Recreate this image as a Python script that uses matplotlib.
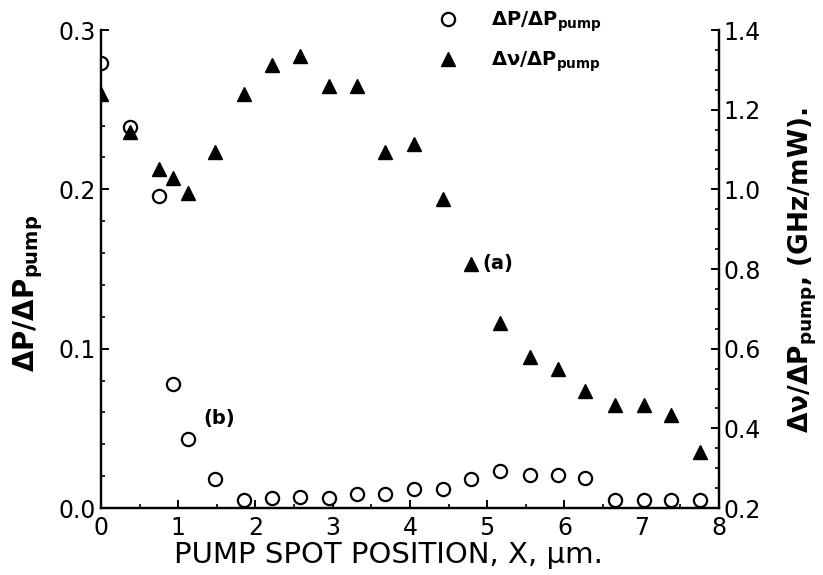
import matplotlib
matplotlib.use('Agg')
import matplotlib.pyplot as plt
from matplotlib.lines import Line2D
from matplotlib.ticker import MultipleLocator

# pump spot position, um
x_pos = [0.0, 0.38, 0.75, 0.93, 1.12, 1.48, 1.85, 2.22, 2.58, 2.95, 3.32, 3.68,
         4.05, 4.43, 4.79, 5.17, 5.55, 5.91, 6.27, 6.65, 7.03, 7.38, 7.75]

# (b) dP/dPpump, left axis
dp_ratio = [0.279, 0.239, 0.196, 0.078, 0.043, 0.018, 0.005, 0.006, 0.007, 0.006,
            0.009, 0.009, 0.012, 0.012, 0.018, 0.023, 0.021, 0.021, 0.019,
            0.005, 0.005, 0.005, 0.005]

# (a) dnu/dPpump, GHz/mW, right axis
dnu_ratio = [1.24, 1.145, 1.05, 1.028, 0.99, 1.095, 1.24, 1.311, 1.336, 1.259,
             1.259, 1.095, 1.115, 0.975, 0.812, 0.664, 0.58, 0.549, 0.495,
             0.459, 0.459, 0.433, 0.341]

x_ticks = [0, 1, 2, 3, 4, 5, 6, 7, 8]
left_ticks = [0.0, 0.1, 0.2, 0.3]
right_ticks = [0.2, 0.4, 0.6, 0.8, 1.0, 1.2, 1.4]

plt.rcParams['font.family'] = 'DejaVu Sans'

fig = plt.figure(figsize=(8.23, 5.75), dpi=100)
ax = fig.add_axes([0.1227, 0.1165, 0.7509, 0.8313])
ax2 = ax.twinx()

ax.plot(x_pos, dp_ratio, 'o', mfc='white', mec='black', mew=1.6, ms=9.5, zorder=3)
ax2.plot(x_pos, dnu_ratio, '^', color='black', ms=10.5, zorder=3)

ax.set_xlim(0, 8)
ax.set_ylim(0, 0.3)
ax2.set_ylim(0.2, 1.4)

ax.set_xticks(x_ticks)
ax.set_xticklabels([str(t) for t in x_ticks])
ax.set_yticks(left_ticks)
ax.set_yticklabels(['%.1f' % t for t in left_ticks])
ax2.set_yticks(right_ticks)
ax2.set_yticklabels(['%.1f' % t for t in right_ticks])
ax.yaxis.set_minor_locator(MultipleLocator(0.02))
ax2.yaxis.set_minor_locator(MultipleLocator(0.05))
ax.xaxis.set_minor_locator(MultipleLocator(0.5))

for a in (ax, ax2):
    a.spines['top'].set_visible(False)
    for s in ('left', 'right', 'bottom'):
        a.spines[s].set_linewidth(1.6)
    a.tick_params(which='major', direction='in', length=6, width=1.4, labelsize=17)
    a.tick_params(which='minor', direction='in', length=3, width=1.2)
ax.tick_params(axis='x', pad=6)

fig.text(0.472, 0.035, 'PUMP SPOT POSITION, X, \u00b5m.', fontsize=21,
         ha='center', va='center')
fig.text(0.034, 0.49, 'ΔP/ΔP$_{\\mathbf{pump}}$', fontsize=20, fontweight='bold',
         rotation=90, ha='center', va='center')
fig.text(0.975, 0.53, 'Δν/ΔP$_{\\mathbf{pump}}$, (GHz/mW).', fontsize=19,
         fontweight='bold', rotation=90, ha='center', va='center')

ax2.text(4.94, 0.815, '(a)', fontsize=14, fontweight='bold', va='center')
ax.text(1.32, 0.056, '(b)', fontsize=14, fontweight='bold', va='center')

handles = [Line2D([], [], ls='none', marker='o', mfc='white', mec='black', mew=1.6, ms=9.5),
           Line2D([], [], ls='none', marker='^', color='black', ms=10.5)]
labels = ['ΔP/ΔP$_{\\mathbf{pump}}$', 'Δν/ΔP$_{\\mathbf{pump}}$']
leg = ax2.legend(handles, labels, loc='upper left', bbox_to_anchor=(0.5025, 1.08),
                 frameon=False, prop={'size': 14, 'weight': 'bold'},
                 handletextpad=1.2, labelspacing=0.8)

fig.savefig('out.png', dpi=100)
